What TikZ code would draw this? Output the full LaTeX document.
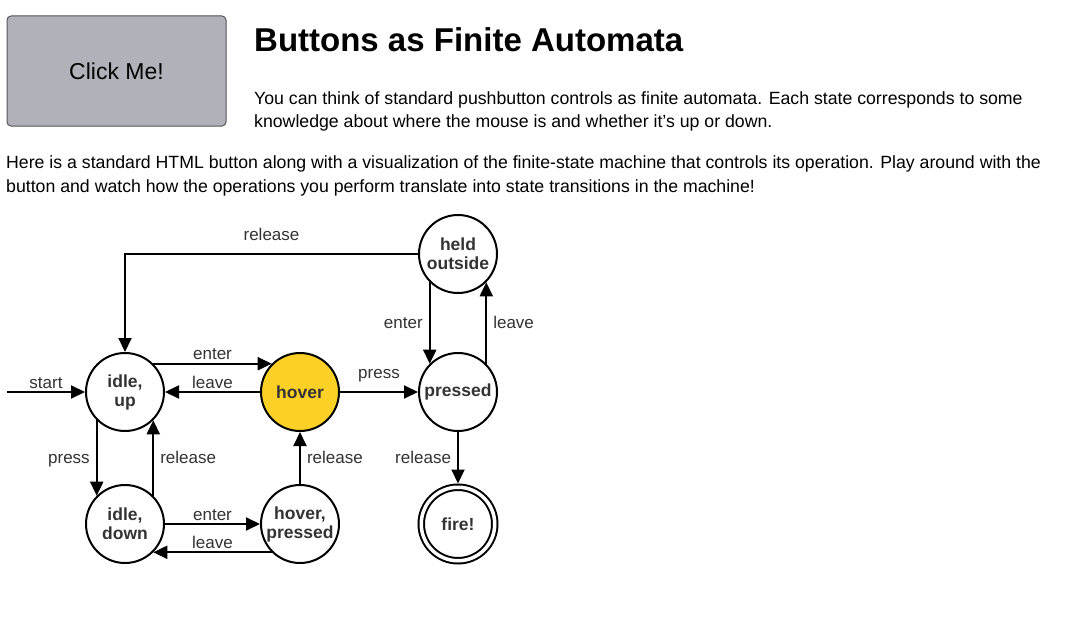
\documentclass[tikz,border=0pt]{standalone}
\usepackage{fontspec}
\setmainfont{Liberation Sans}
\usepackage{xcolor}
\usepackage{tikz}
\usetikzlibrary{arrows.meta,positioning}
\definecolor{hovergold}{RGB}{252,208,36}
\definecolor{btngray}{RGB}{177,177,185}
\definecolor{btnedge}{RGB}{85,85,90}
\definecolor{inkgray}{RGB}{51,51,51}
\begin{document}
\begin{tikzpicture}[x=1pt, y=1pt,
            state/.style={on grid, draw, circle, line width=2pt, minimum size=78pt, inner sep=0pt, align=center, text=inkgray, font=\fontsize{17.5}{19}\selectfont\bfseries},
            trans/.style={-{Triangle[length=14pt,width=13pt]}, line width=2pt},
            lbl/.style={text=inkgray, inner ysep=2pt, inner xsep=6pt, text height=12pt, text depth=1pt, font=\fontsize{17}{19}\selectfont},
            para/.style={anchor=base west, inner sep=0pt, font=\fontsize{17.7}{24}\selectfont}]
            \useasboundingbox (0,0) rectangle (1080,-618);
            \fill[white] (0,0) rectangle (1080,-618);

            \node[draw=btnedge, fill=btngray, rounded corners=4pt, line width=1pt, minimum width=219pt, minimum height=110pt, font=\fontsize{23}{27}\selectfont] (button) at (116.5,-71) {Click Me!};
            \node[anchor=base west, inner sep=0pt, font=\fontsize{33}{40}\selectfont\bfseries] (title) at (254,-52) {Buttons as Finite Automata};
            \node[para] (intro1) at (254,-104) {You can think of standard pushbutton controls as finite automata. Each state corresponds to some};
            \node[para] (intro2) at (254,-128) {knowledge about where the mouse is and whether it's up or down.};
            \node[para] (body1) at (6,-168) {Here is a standard HTML button along with a visualization of the finite-state machine that controls its operation. Play around with the};
            \node[para] (body2) at (6,-192) {button and watch how the operations you perform translate into state transitions in the machine!};

            \node[state] (idleup) at (125,-392) {idle,\\up};
            \node[state, fill=hovergold, right=175pt of idleup] (hover) {hover};
            \node[state, right=158pt of hover] (pressed) {pressed};
            \node[state, above=138pt of pressed] (held) {held\\outside};
            \node[state, below=132pt of idleup] (idledown) {idle,\\down};
            \node[state, below=132pt of hover] (hoverpressed) {hover,\\pressed};
            \node[state, double, double distance=3.5pt, minimum size=73.5pt, outer sep=3.75pt, below=132pt of pressed] (fire) {fire!};
            \coordinate (start) at (7,-392);

            \draw[trans] (start) -- node[lbl, above] {start} (idleup);
            \draw[trans] (idleup.45) -- node[lbl, above] {enter} (hover.135);
            \draw[trans] (hover) -- node[lbl, above] {leave} (idleup);
            \draw[trans] (hover) -- node[lbl, above=10pt] {press} (pressed);
            \draw[trans] (held.-135) -- node[lbl, left] {enter} (pressed.135);
            \draw[trans] (pressed.45) -- node[lbl, right] {leave} (held.-45);
            \draw[trans] (held) -| node[lbl, above=10pt, pos=0.25] {release} (idleup);
            \draw[trans] (idleup.-135) -- node[lbl, left] {press} (idledown.135);
            \draw[trans] (idledown.45) -- node[lbl, right] {release} (idleup.-45);
            \draw[trans] (idledown) -- node[lbl, above] {enter} (hoverpressed);
            \draw[trans] (hoverpressed.-135) -- node[lbl, above] {leave} (idledown.-45);
            \draw[trans] (hoverpressed) -- node[lbl, right] {release} (hover);
            \draw[trans] (pressed) -- node[lbl, left] {release} (fire);
        \end{tikzpicture}
\end{document}
